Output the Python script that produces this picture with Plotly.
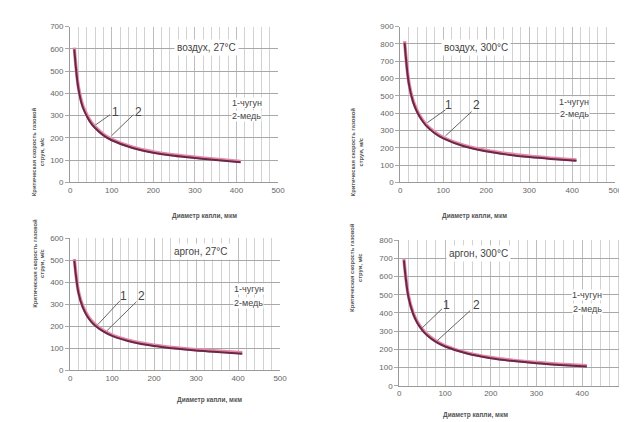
import plotly.graph_objects as go

W, H = 627, 422

# ---------------- data ----------------
diam = [10, 20, 30, 40, 50, 60, 80, 100, 150, 200, 250, 300, 350, 410]

air27_copper   = [598, 420, 340, 298, 266, 244, 211, 189, 154, 133, 119, 109, 100, 90]
air27_iron     = [606, 428, 348, 305, 272, 250, 216, 194, 158, 137, 123, 113, 104, 94]
air300_copper  = [806, 568, 462, 402, 360, 328, 284, 254, 207, 179, 160, 146, 135, 124]
air300_iron    = [816, 576, 470, 410, 367, 334, 290, 259, 212, 184, 165, 151, 140, 129]
arg27_copper   = [498, 350, 286, 247, 221, 202, 175, 156, 127, 110, 98, 89, 83, 75]
arg27_iron     = [505, 356, 292, 253, 226, 207, 179, 160, 131, 114, 102, 93, 87, 79]
arg300_copper  = [688, 486, 396, 342, 306, 279, 241, 216, 176, 152, 136, 124, 115, 106]
arg300_iron    = [696, 493, 402, 348, 312, 284, 246, 220, 180, 156, 140, 128, 119, 110]

panel_titles = ["воздух, 27°C", "воздух, 300°C", "аргон, 27°C", "аргон, 300°C"]
y_max = [700, 900, 600, 800]
legend_lines = ["1-чугун", "2-медь"]
x_title = "Диаметр капли, мкм"
y_title = "Критическая скорость газовой<br>струи, м/с"

series = [(air27_iron, air27_copper), (air300_iron, air300_copper),
          (arg27_iron, arg27_copper), (arg300_iron, arg300_copper)]

# ---------------- layout geometry (pixels) ----------------
boxes = [(61, 272, 15, 174), (396, 614, 15, 174),
         (61, 274, 231, 366), (395, 627, 233, 382)]

def px(x):
    return x / W

def py(y):
    return 1 - y / H

fig = go.Figure()
IRON = "#e58aa6"
COPPER = "#6a2848"

for i, (iron, copper) in enumerate(series):
    sfx = "" if i == 0 else str(i + 1)
    fig.add_trace(go.Scatter(x=diam, y=iron, mode="lines", line=dict(color=IRON, width=3.4, shape="spline"),
                             xaxis="x" + sfx, yaxis="y" + sfx, showlegend=False))
    fig.add_trace(go.Scatter(x=diam, y=copper, mode="lines", line=dict(color=COPPER, width=2, shape="spline"),
                             xaxis="x" + sfx, yaxis="y" + sfx, showlegend=False))

layout = dict(width=W, height=H, margin=dict(l=0, r=0, t=0, b=0),
              paper_bgcolor="white", plot_bgcolor="white",
              font=dict(family="Liberation Sans, Arial, sans-serif", color="#555"))

annotations = []
shapes = []

labels = [
    dict(l1=(108, 318), l2=(165, 318), ln1=((96, 304), (61, 258)), ln2=((152, 304), (100, 210))),
    dict(l1=(112, 447), l2=(177, 447), ln1=((105, 419), (63, 345)), ln2=((166, 409), (105, 268))),
    dict(l1=(127, 335), l2=(170, 335), ln1=((119, 316), (66, 207)), ln2=((158, 311), (88, 180))),
    dict(l1=(104, 444), l2=(169, 444), ln1=((93, 422), (50, 318)), ln2=((155, 413), (83, 248))),
]
title_pos = [(166, 28), (508, 28), (163, 245), (508, 247)]
leg_pos = [((240, 87), (240, 100)), ((588, 86), (588, 98)),
           ((242, 289), (242, 303)), ((602, 295), (602, 310))]
ytitle_pos = [(20, 95), (353, 95), (20, 304), (351, 308)]
xtitle_pos = [(162, 208), (506, 208), (167, 403), (507, 418)]

for i in range(4):
    sfx = "" if i == 0 else str(i + 1)
    l, r, t, b = boxes[i]
    xa = dict(domain=[px(l), px(r)], range=[0, 500], dtick=100, tick0=0,
              showgrid=True, gridcolor="#bdbdbd", gridwidth=1,
              minor=dict(dtick=20, showgrid=True, gridcolor="#d2d2d2", gridwidth=1),
              zeroline=False, showline=True, linecolor="#9a9a9a",
              ticks="", tickfont=dict(size=8, color="#666"),
              anchor="y" + sfx, fixedrange=True)
    ya = dict(domain=[py(b), py(t)], range=[0, y_max[i]], dtick=100, tick0=0,
              showgrid=True, gridcolor="#a8a8a8", gridwidth=1,
              zeroline=False, showline=True, linecolor="#9a9a9a",
              ticks="outside", ticklen=4, tickcolor="#a8a8a8",
              tickfont=dict(size=8, color="#666"),
              anchor="x" + sfx, fixedrange=True)
    layout["xaxis" + sfx] = xa
    layout["yaxis" + sfx] = ya

    xr, yr = "x" + sfx, "y" + sfx
    lb = labels[i]
    for key, txt in (("l1", "1"), ("l2", "2")):
        annotations.append(dict(x=lb[key][0], y=lb[key][1], xref=xr, yref=yr, text=txt,
                                showarrow=False, font=dict(size=12, color="#444")))
    for key in ("ln1", "ln2"):
        (x0, y0), (x1, y1) = lb[key]
        shapes.append(dict(type="line", xref=xr, yref=yr, x0=x0, y0=y0, x1=x1, y1=y1,
                           line=dict(color="#666", width=1)))

    tx, ty = title_pos[i]
    annotations.append(dict(x=px(tx), y=py(ty), xref="paper", yref="paper", text=panel_titles[i],
                            showarrow=False, bgcolor="white", borderpad=2,
                            font=dict(size=10, color="#444")))
    for (lx, lyy), txt in zip(leg_pos[i], legend_lines):
        annotations.append(dict(x=px(lx), y=py(lyy), xref="paper", yref="paper", text=txt,
                                showarrow=False, bgcolor="white", borderpad=0,
                                font=dict(size=9, color="#444")))
    yx, yy = ytitle_pos[i]
    annotations.append(dict(x=px(yx), y=py(yy), xref="paper", yref="paper", text="<b>" + y_title + "</b>",
                            showarrow=False, textangle=-90, font=dict(size=5.8, color="#555")))
    xx, xy = xtitle_pos[i]
    annotations.append(dict(x=px(xx), y=py(xy), xref="paper", yref="paper", text="<b>" + x_title + "</b>",
                            showarrow=False, font=dict(size=6.5, color="#555")))

layout["annotations"] = annotations
layout["shapes"] = shapes
fig.update_layout(**layout)
fig.write_html("out.html")
